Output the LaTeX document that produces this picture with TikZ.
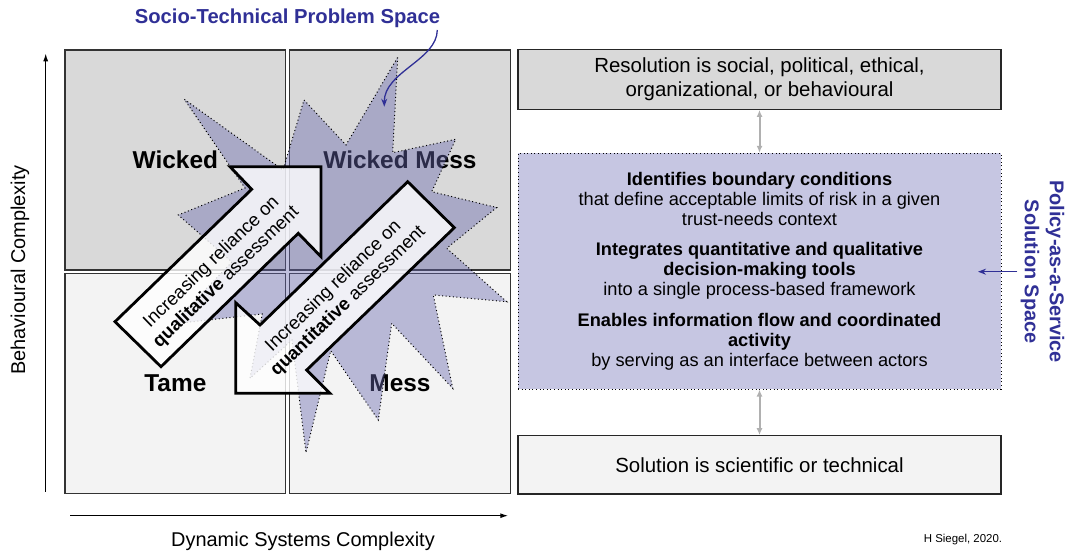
\documentclass[tikz,border=0pt]{standalone}
\usepackage{fontspec}
\setmainfont{Liberation Sans}
\usetikzlibrary{arrows.meta,positioning}
\definecolor{quadtop}{HTML}{D9D9D9}
\definecolor{quadbot}{HTML}{F3F3F3}
\definecolor{starfill}{RGB}{103,103,174}
\definecolor{paasfill}{HTML}{C6C6E2}
\definecolor{spaceblue}{RGB}{48,48,150}
\definecolor{linkgray}{HTML}{B0B0B0}
\begin{document}
\begin{tikzpicture}[x=1bp,y=-1bp,
  quad/.style={draw=black!80,line width=1.2bp,minimum width=220.7bp,minimum height=220bp,inner sep=0,font=\fontsize{24.5}{28}\selectfont\bfseries},
  infobox/.style={draw=black!85,line width=1.2bp,minimum width=483bp,inner sep=0,align=center,font=\fontsize{20.5}{23.5}\selectfont},
  bigarrow/.style={draw=black,line width=2.8bp,fill=white,fill opacity=0.8,line join=miter},
  arrowtext/.style={align=center,rotate=44,font=\fontsize{18.5}{21}\selectfont},
  starshape/.style={draw=black,line width=1bp,dash pattern=on 1bp off 2.6bp,fill=starfill,fill opacity=0.42},
  link/.style={draw=linkgray,line width=2bp,{Latex[length=7bp,width=6bp]}-{Latex[length=7bp,width=6bp]}},
  axisarrow/.style={draw=black,line width=1.3bp,-{Latex[length=8bp,width=5bp]}},
  axislabel/.style={font=\fontsize{20}{24}\selectfont},
  spacelabel/.style={text=spaceblue,font=\fontsize{20}{25}\selectfont\bfseries,align=center},
  bluearrow/.style={draw=spaceblue,line width=1.4bp,-{Stealth[length=8bp,width=6bp]}}]
\useasboundingbox (0,0) rectangle (1067,552);

\node (wicked) [quad,fill=quadtop] at (175.35,160) {Wicked};
\node (wickedmess) [quad,fill=quadtop] at (400,160) {Wicked Mess};
\node (tame) [quad,fill=quadbot] at (175.35,383.3) {Tame};
\node (mess) [quad,fill=quadbot] at (400,383.3) {Mess};

\draw [starshape] (397.7,57.3) -- (392.7,152.7) -- (455.7,139.3) -- (431.7,191.7) -- (496.7,207.5) -- (446.7,248.3) -- (506.7,301.7) -- (433.3,295) -- (452.7,388.3) -- (391.7,323.3) -- (378.3,420) -- (330.7,350.7) -- (306,452.7) -- (292,340) -- (250,378.3) -- (262.3,314) -- (172,324) -- (232,262) -- (178.3,215) -- (245,188) -- (184.3,99.3) -- (283,170) -- (304,100) -- (346,145) -- cycle;

\draw [bigarrow] (115,321.7) -- (251.7,189.3) -- (230,166.7) -- (321,166.7) -- (321,256.7) -- (298.3,233.3) -- (161,366.7) -- cycle;
\draw [bigarrow] (235.7,393.3) -- (235.7,302.7) -- (260,325) -- (407.7,181.7) -- (454.3,227.7) -- (306.7,370) -- (330,393.3) -- cycle;
\node (qualnote) [arrowtext] at (219,270) {Increasing reliance on\\\textbf{qualitative} assessment};
\node (quantnote) [arrowtext] at (341,294) {Increasing reliance on\\\textbf{quantitative} assessment};

\node (problemspace) [spacelabel,font=\fontsize{20.3}{24}\selectfont\bfseries] at (287.5,18) {Socio-Technical Problem Space};
\coordinate (startip) at (384.3,106.7);
\draw [bluearrow,line width=1.3bp] (437.3,30) .. controls (437,60) and (384,72) .. (startip);

\coordinate (ybot) at (45.7,491.7);
\coordinate (ytop) at (45.7,53.3);
\coordinate (xleft) at (70,515.7);
\coordinate (xright) at (508.3,515.7);
\draw [axisarrow] (ybot) -- (ytop);
\draw [axisarrow] (xleft) -- (xright);
\node (behav) [axislabel,rotate=90] at (20,270) {Behavioural Complexity};
\node (dynsys) [axislabel] at (303,541) {Dynamic Systems Complexity};

\node (resolution) [infobox,fill=quadtop,minimum height=60bp] at (759.5,79.3) {Resolution is social, political, ethical,\\organizational, or behavioural};
\node (paas) [infobox,draw=black,line width=1bp,dash pattern=on 1bp off 2.6bp,fill=paasfill,minimum height=235.7bp,font=\fontsize{18.3}{20}\selectfont] at (759.5,271.2) {\textbf{Identifies boundary conditions}\\that define acceptable limits of risk in a given\\trust-needs context\\[11bp]\textbf{Integrates quantitative and qualitative}\\\textbf{decision-making tools}\\into a single process-based framework\\[11bp]\textbf{Enables information flow and coordinated}\\\textbf{activity}\\by serving as an interface between actors};
\node (solution) [infobox,fill=quadbot,minimum height=58.3bp] at (759.5,464.9) {Solution is scientific or technical};
\draw [link] (resolution.south) -- (paas.north);
\draw [link] (paas.south) -- (solution.north);

\node (policy) [spacelabel,rotate=-90] at (1042.5,271.7) {Policy-as-a-Service\\Solution Space};
\coordinate (policytip) at (978,271.7);
\draw [bluearrow] (policy.south) -- (policytip);

\node (sig) [font=\fontsize{11.5}{14}\selectfont] at (963,540) {H Siegel, 2020.};
\end{tikzpicture}
\end{document}
